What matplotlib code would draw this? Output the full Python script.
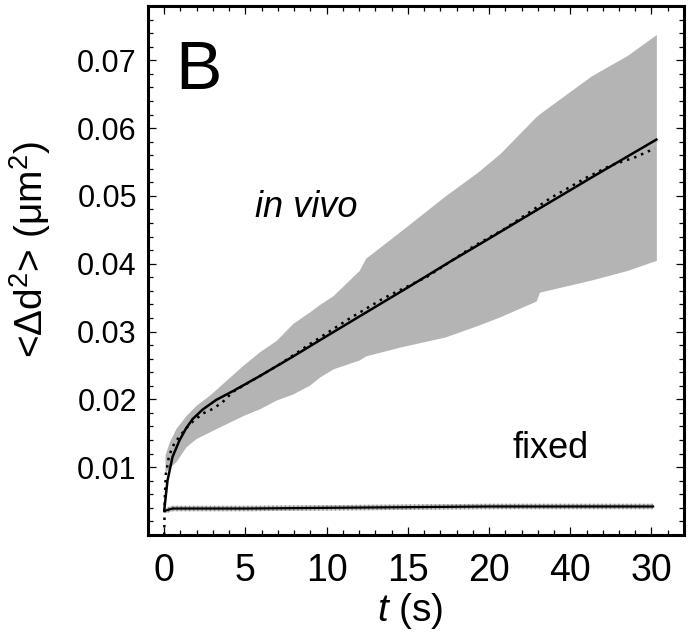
import matplotlib
matplotlib.use("Agg")
import matplotlib.pyplot as plt
from matplotlib.ticker import MultipleLocator, FixedLocator

plt.rcParams["font.family"] = ["Liberation Sans", "DejaVu Sans"]
plt.rcParams["mathtext.fontset"] = "custom"
plt.rcParams["mathtext.rm"] = "Liberation Sans"
plt.rcParams["mathtext.it"] = "Liberation Sans:italic"

# ── in vivo: error band (mean ± sd) ──
t_band = [0.05, 0.31, 0.72, 1.34, 1.95, 2.78, 3.81, 4.84, 5.86, 6.9, 7.92, 8.95,
          9.57, 10.4, 12.0, 12.4, 14.5, 17.3, 19.3, 20.7, 22.9, 23.1, 26.3, 28.5, 30.3]
band_hi = [0.0118, 0.0137, 0.0157, 0.0176, 0.0191, 0.0206, 0.0228, 0.0250, 0.0270,
           0.0287, 0.0312, 0.0329, 0.0340, 0.0353, 0.0390, 0.0408, 0.0447, 0.0500,
           0.0535, 0.0563, 0.0617, 0.0621, 0.0677, 0.0707, 0.0738]
band_lo = [0.0092, 0.0099, 0.0108, 0.0130, 0.0142, 0.0152, 0.0164, 0.0176, 0.0186,
           0.0199, 0.0208, 0.0221, 0.0233, 0.0245, 0.0258, 0.0264, 0.0277, 0.0292,
           0.0309, 0.0322, 0.0345, 0.0358, 0.0376, 0.0390, 0.0405]

# in vivo: solid fit
t_fit = [0.0, 0.2, 0.51, 0.93, 1.34, 1.75, 2.37, 3.19, 4.22, 5.86, 7.92, 9.57,
         12.0, 15.0, 17.6, 20.0, 23.0, 26.3, 30.3]
msd_fit = [0.0036, 0.0080, 0.0115, 0.0139, 0.0157, 0.0171, 0.0185, 0.0199, 0.0212,
           0.0234, 0.0263, 0.0287, 0.0322, 0.0365, 0.0403, 0.0437, 0.0480, 0.0527, 0.0583]

# in vivo: dotted curve
t_dot = [0.0, 0.03, 0.1, 0.3, 0.62, 1.0, 1.34, 1.75, 2.37, 3.0, 3.6, 4.22, 5.5, 7.0,
         9.0, 11.4, 13.5, 16.2, 19.0, 21.0, 23.8, 26.0, 27.5, 29.0, 30.2]
msd_dot = [0.0, 0.0050, 0.0090, 0.0117, 0.0135, 0.0147, 0.0157, 0.0167, 0.0179,
           0.0186, 0.0196, 0.0211, 0.0229, 0.0250, 0.0282, 0.0319, 0.0349, 0.0381,
           0.0425, 0.0452, 0.0497, 0.0527, 0.0545, 0.0557, 0.0570]

# fixed cells
t_fixed = [0.1, 0.5, 5.0, 10.0, 15.0, 20.0, 25.0, 30.1]
msd_fixed = [0.0036, 0.0039, 0.0039, 0.0040, 0.0041, 0.0042, 0.0042, 0.0042]
sd_fixed = [0.0004, 0.0004, 0.0004, 0.0004, 0.0004, 0.0004, 0.0004, 0.0004]

x_ticks = [0, 5, 10, 15, 20, 25, 30]
x_ticklabels = ["0", "5", "10", "15", "20", "40", "30"]
y_ticks = [0.01, 0.02, 0.03, 0.04, 0.05, 0.06, 0.07]
y_ticklabels = ["0.01", "0.02", "0.03", "0.04", "0.05", "0.06", "0.07"]

fig = plt.figure(figsize=(6.97, 6.39), dpi=100)
ax = fig.add_axes([0.2123, 0.1628, 0.7690, 0.8278])

ax.fill_between(t_band, band_lo, band_hi, color="#b4b4b4", lw=0, zorder=1)
ax.plot(t_fit, msd_fit, color="black", lw=1.8, zorder=3)
ax.plot(t_dot, msd_dot, color="black", lw=1.8, ls=(0, (1, 2)), zorder=3)

lo_f = [m - s for m, s in zip(msd_fixed, sd_fixed)]
hi_f = [m + s for m, s in zip(msd_fixed, sd_fixed)]
ax.fill_between(t_fixed, lo_f, hi_f, facecolor="#c8c8c8", edgecolor="#8a8a8a",
                hatch="||||", lw=0, zorder=2)
ax.plot(t_fixed, msd_fixed, color="black", lw=1.6, zorder=3)

ax.set_xlim(-1, 32)
ax.set_ylim(0, 0.078)
ax.xaxis.set_major_locator(FixedLocator(x_ticks))
ax.set_xticklabels(x_ticklabels)
ax.yaxis.set_major_locator(FixedLocator(y_ticks))
ax.set_yticklabels(y_ticklabels)
ax.xaxis.set_minor_locator(MultipleLocator(1))
ax.yaxis.set_minor_locator(MultipleLocator(0.002))

ax.tick_params(which="both", direction="in", top=True, right=True, width=0.9)
ax.tick_params(which="major", length=6)
ax.tick_params(which="minor", length=3.5)
ax.tick_params(axis="x", labelsize=27, pad=13)
ax.tick_params(axis="y", labelsize=22, pad=8)
for sp in ax.spines.values():
    sp.set_linewidth(2.2)

ax.set_xlabel(r"$t$ (s)", fontsize=28)
ax.xaxis.set_label_coords(0.489, -0.105)
ax.set_ylabel(r"<Δd$^{\mathrm{2}}$> (μm$^{\mathrm{2}}$)", fontsize=28)
ax.yaxis.set_label_coords(-0.177, 0.54)

ax.text(0.05, 0.8425, "B", transform=ax.transAxes, fontsize=50, va="baseline")
ax.text(8.77, 0.0469, "in vivo", style="italic", fontsize=26, ha="center", va="baseline")
ax.text(23.8, 0.0113, "fixed", fontsize=26, ha="center", va="baseline")

fig.savefig("out.png", dpi=100)
